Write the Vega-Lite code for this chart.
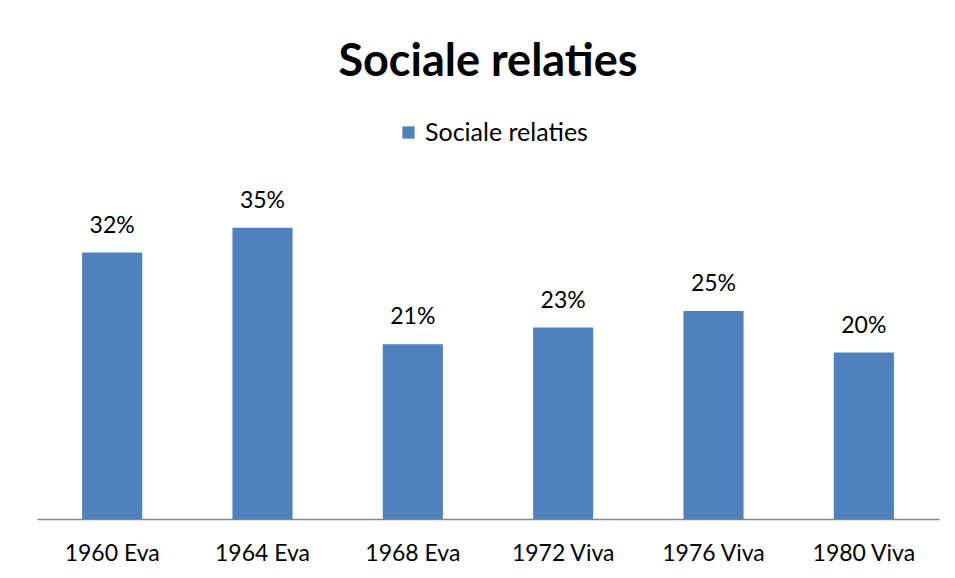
{
  "$schema": "https://vega.github.io/schema/vega-lite/v6.json",
  "width": 902,
  "height": 333,
  "autosize": {"type": "none"},
  "padding": {"left": 37, "top": 186, "right": 16, "bottom": 59},
  "background": "white",
  "title": {
    "text": "Sociale relaties",
    "font": "Lato",
    "fontSize": 45,
    "fontWeight": "bold",
    "color": "black",
    "anchor": "middle",
    "offset": 35
  },
  "data": {
    "values": [
      {"category": "1960 Eva", "series": "Sociale relaties", "value": 0.32},
      {"category": "1964 Eva", "series": "Sociale relaties", "value": 0.35},
      {"category": "1968 Eva", "series": "Sociale relaties", "value": 0.21},
      {"category": "1972 Viva", "series": "Sociale relaties", "value": 0.23},
      {"category": "1976 Viva", "series": "Sociale relaties", "value": 0.25},
      {"category": "1980 Viva", "series": "Sociale relaties", "value": 0.20}
    ]
  },
  "encoding": {
    "x": {
      "field": "category",
      "type": "nominal",
      "sort": null,
      "scale": {"paddingInner": 0.6, "paddingOuter": 0.3},
      "axis": {
        "title": null,
        "labelAngle": 0,
        "labelFont": "Lato",
        "labelFontSize": 23,
        "labelColor": "black",
        "labelPadding": 23,
        "ticks": false,
        "domainColor": "#868686",
        "domainWidth": 1.5,
        "grid": false
      }
    },
    "y": {
      "field": "value",
      "type": "quantitative",
      "scale": {"domain": [0, 0.4]},
      "axis": null
    }
  },
  "layer": [
    {
      "mark": {"type": "bar", "color": "#4F81BD"},
      "encoding": {
        "color": {
          "field": "series",
          "type": "nominal",
          "scale": {"range": ["#4F81BD"]},
          "legend": {
            "title": null,
            "orient": "none",
            "legendX": 359,
            "legendY": -66,
            "symbolType": "square",
            "symbolSize": 150,
            "symbolStrokeWidth": 0,
            "labelFont": "Lato",
            "labelFontSize": 25,
            "labelColor": "black",
            "labelOffset": 4,
            "labelLimit": 400
          }
        }
      }
    },
    {
      "mark": {"type": "text", "baseline": "bottom", "dy": -15, "font": "Lato", "fontSize": 23, "color": "black"},
      "encoding": {
        "text": {"field": "value", "type": "quantitative", "format": ".0%"}
      }
    }
  ],
  "config": {"view": {"stroke": null}}
}
